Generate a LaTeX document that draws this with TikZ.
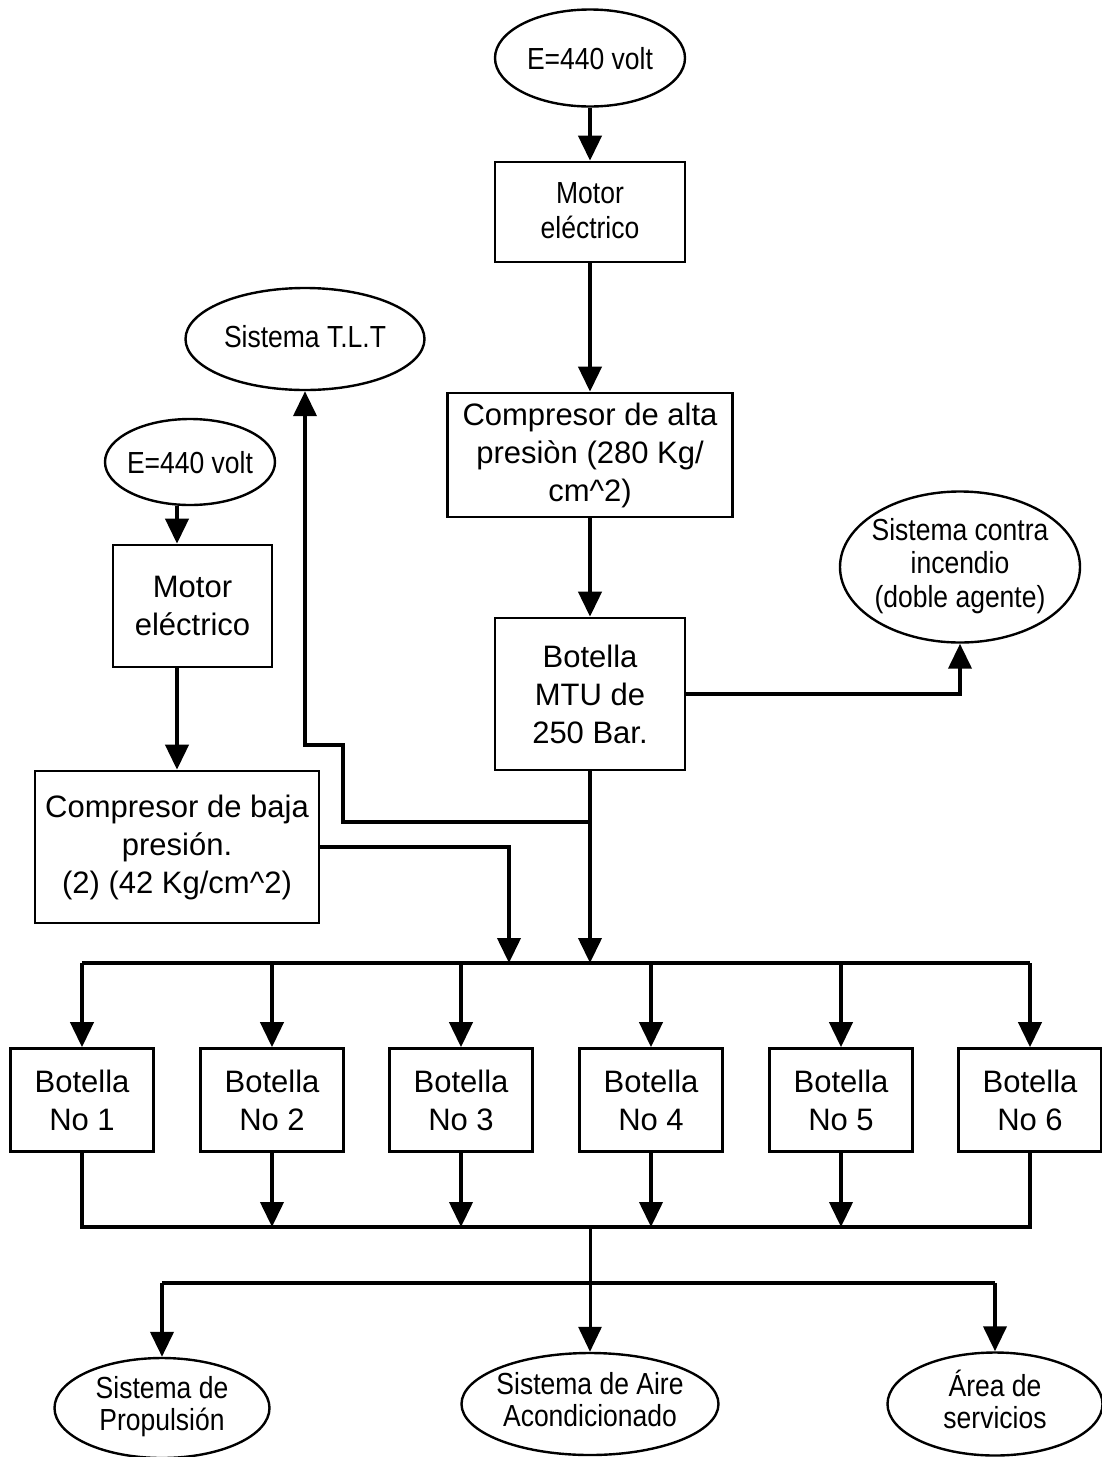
\documentclass[tikz,border=0pt]{standalone}
\usepackage{fontspec}
\usepackage{graphicx}
\setmainfont{Liberation Sans}
\usetikzlibrary{arrows.meta,shapes.geometric}
% text block slightly stretched vertically, as in the oval labels
\newcommand{\tallstack}[1]{\scalebox{1}[1.15]{\begin{tabular}{@{}c@{}}#1\end{tabular}}}
\begin{document}
\begin{tikzpicture}[x=1pt,y=-1pt,
  box/.style={draw,line width=2.6pt,rectangle,inner sep=0pt,align=center,
              font=\fontsize{31}{38}\selectfont},
  smallbox/.style={box,font=\fontsize{26.5}{30.5}\selectfont},
  oval/.style={draw,line width=2.4pt,ellipse,inner sep=0pt},
  ovaltext/.style={inner sep=0pt,font=\fontsize{26.5}{29}\selectfont},
  link/.style={line width=4pt},
  stem/.style={line width=3pt},
  arr/.style={link,-{Triangle[length=25pt,width=23pt]}},
]
\useasboundingbox (0,0) rectangle (1102,1457);

% --- high-pressure branch
\node[oval,minimum width=190,minimum height=97] (eT) at (590,58) {};
\node[ovaltext] (eTt) at (590,63) {\tallstack{E=440 volt}};
\node[smallbox,minimum width=190,minimum height=100] (motT) at (590,212) {};
\node[ovaltext,font=\fontsize{26.5}{30.5}\selectfont] (motTt) at (590,214) {\tallstack{Motor\\eléctrico}};
\node[box,minimum width=285,minimum height=124] (compA) at (590,455)
  {Compresor de alta\\presiòn (280 Kg/\\cm\textasciicircum 2)};
\node[box,minimum width=190,minimum height=152] (mtu) at (590,694) {Botella\\MTU de\\250 Bar.};
\node[oval,minimum width=240,minimum height=151] (contra) at (960,567) {};
\node[ovaltext] (contraT) at (contra) {\tallstack{Sistema contra\\incendio\\(doble agente)}};
\node[oval,minimum width=239,minimum height=102] (tlt) at (305,339) {};
\node[ovaltext] (tltT) at (305,341) {\tallstack{Sistema T.L.T}};

% --- low-pressure branch
\node[oval,minimum width=170,minimum height=86] (eL) at (190,462) {};
\node[ovaltext] (eLt) at (190,467) {\tallstack{E=440 volt}};
\node[box,minimum width=159,minimum height=122] (motL) at (192.5,606) {Motor\\eléctrico};
\node[box,minimum width=284,minimum height=152] (baja) at (177,847)
  {Compresor de baja\\presión.\\(2) (42 Kg/cm\textasciicircum 2)};

% --- storage bottles
\foreach \i/\x in {1/82,2/272,3/461,4/651,5/841,6/1030}
  \node[box,minimum width=143,minimum height=103] (b\i) at (\x,1100) {Botella\\No \i};

% --- consumers
\node[oval,minimum width=215,minimum height=100] (prop) at (162,1408) {};
\node[ovaltext,font=\fontsize{26.5}{27}\selectfont] (propT) at (prop) {\tallstack{Sistema de\\Propulsión}};
\node[oval,minimum width=257,minimum height=102] (aire) at (590,1404) {};
\node[ovaltext,font=\fontsize{26.5}{27}\selectfont] (aireT) at (aire) {\tallstack{Sistema de Aire\\Acondicionado}};
\node[oval,minimum width=215,minimum height=103] (area) at (995,1404) {};
\node[ovaltext,font=\fontsize{26.5}{27}\selectfont] (areaT) at (area) {\tallstack{Área de\\servicios}};

% --- routing points
\coordinate (busA) at (590,963);
\coordinate (busB) at (590,1227);
\coordinate (busC) at (590,1283);
\coordinate (j1) at (590,822);
\coordinate (k1) at (343,745);
\coordinate (k2) at (509,963);

% --- connectors
\draw[arr] (eT) -- (motT);
\draw[arr] (motT) -- (compA);
\draw[arr] (compA) -- (mtu);
\draw[arr] (mtu.east) -| (contra.south);
\draw[arr] (mtu.south) -- (busA);
\draw[arr] (j1) -| (k1) -| (tlt.south);

\draw[arr] (eL.south -| baja) -- (motL.north -| baja);
\draw[arr] (motL.south -| baja) -- (baja.north);
\draw[arr] (baja.east) -| (k2);

\draw[link] (b1.north |- busA) -- (b6.north |- busA);
\foreach \i in {1,...,6}
  \draw[arr] (b\i.north |- busA) -- (b\i.north);

\draw[link] (b1.south) -- (b1.south |- busB) -- (b6.south |- busB) -- (b6.south);
\foreach \i in {2,...,5}
  \draw[arr] (b\i.south) -- (b\i.south |- busB);

\draw[stem,-{Triangle[length=25pt,width=23pt]}] (busB) -- (aire.north);
\draw[link] (prop.north |- busC) -- (area.north |- busC);
\draw[arr] (prop.north |- busC) -- (prop.north);
\draw[arr] (area.north |- busC) -- (area.north);
\end{tikzpicture}
\end{document}
